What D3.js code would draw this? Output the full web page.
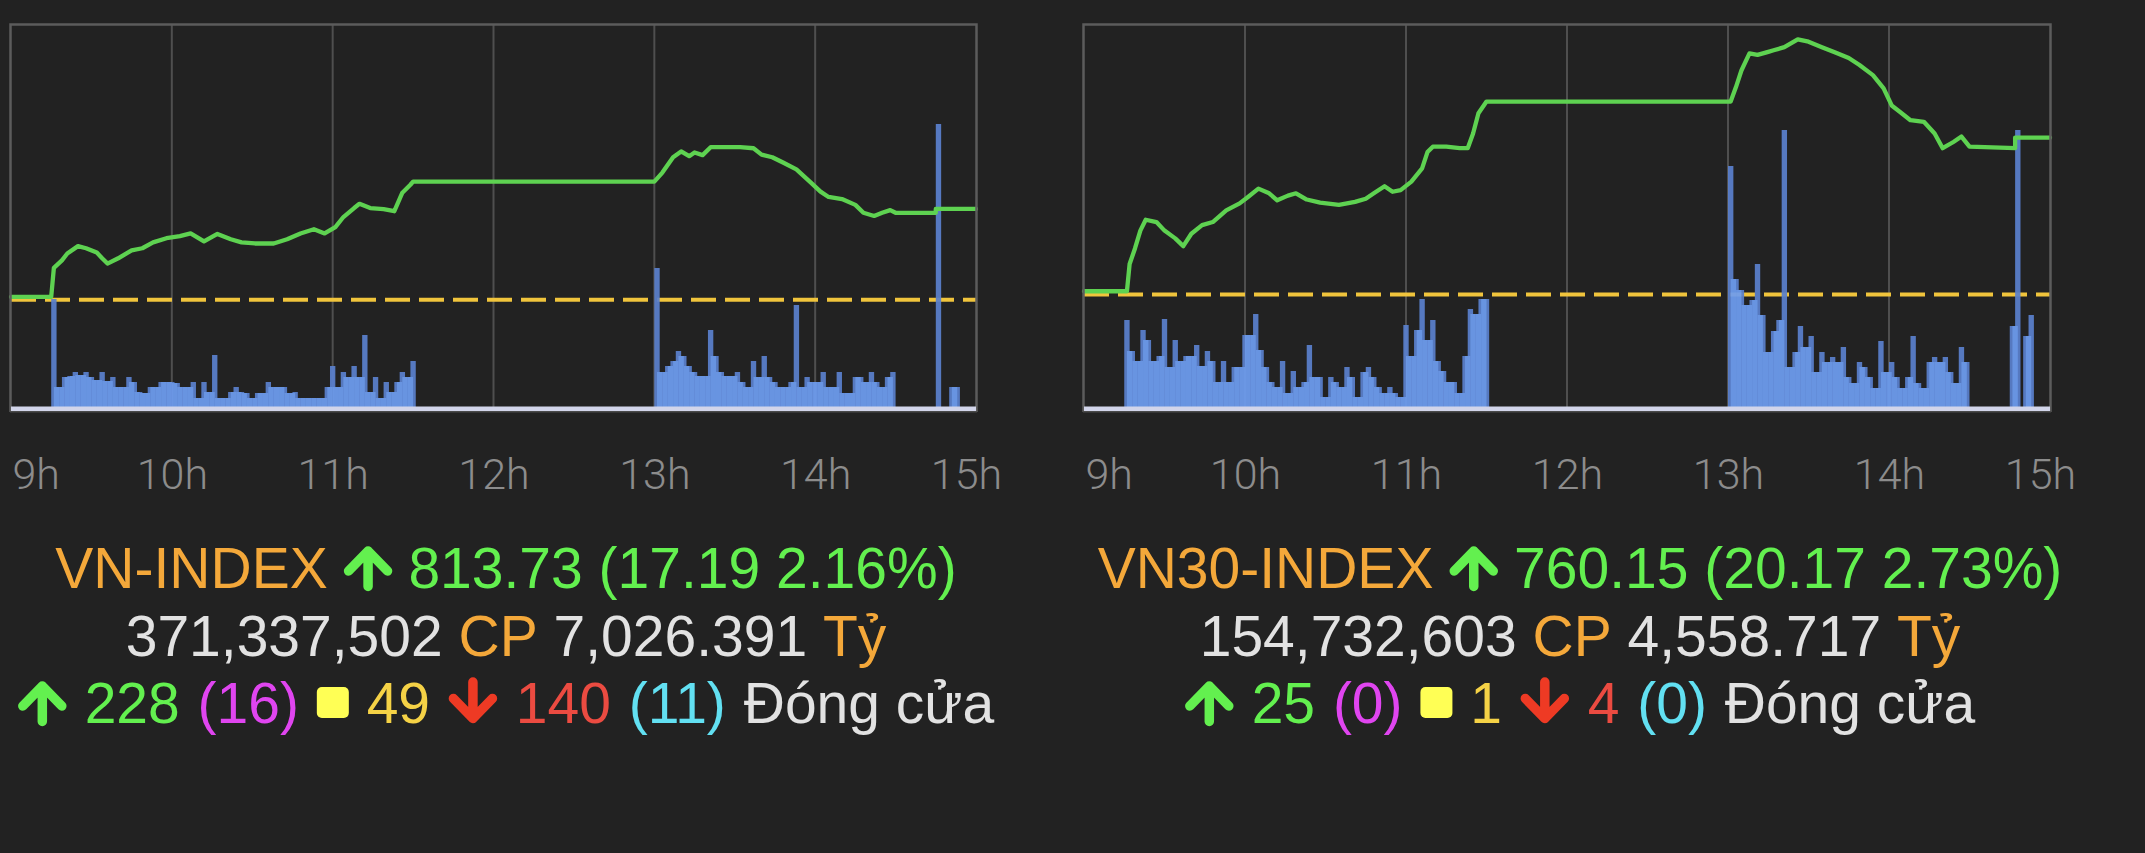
<!DOCTYPE html>
<html><head><meta charset="utf-8">
<script src="https://cdn.jsdelivr.net/npm/d3@7"></script>
<style>
html,body{margin:0;padding:0;background:#222222;}
svg{display:block;}
</style></head><body>
<svg id="chart" width="2145" height="853"></svg>
<script>
// ================= DATA =================
const hourTicks = ["9h", "10h", "11h", "12h", "13h", "14h", "15h"];
const volStepMin = 2;

// ---- VN-INDEX ----
const vnName = "VN-INDEX";
const vnClose = "813.73", vnChange = "17.19", vnPct = "2.16%";
const vnRef = 796.54;
const vnDomain = [776.1, 848.5];
const vnTimes = ["9:00","9:15","9:16","9:19","9:21","9:25","9:28","9:32","9:34","9:36","9:40","9:45","9:49","9:53","9:58",
  "10:03","10:07","10:12","10:17","10:22","10:26","10:31","10:38","10:43","10:48","10:53","10:57",
  "11:01","11:04","11:08","11:10","11:14","11:19","11:23","11:26","11:29","11:30",
  "13:00","13:03","13:07","13:10","13:13","13:15","13:18","13:21","13:27","13:32","13:37","13:40","13:44","13:48","13:53","13:58",
  "14:02","14:05","14:10","14:15","14:18","14:22","14:25","14:28","14:30","14:45","14:45","15:00"];
const vnValues = [797.1,797.1,802.6,804.0,805.3,806.7,806.3,805.5,804.4,803.4,804.4,805.9,806.3,807.4,808.2,
  808.6,809.1,807.6,809.0,808.0,807.4,807.2,807.2,808.0,809.1,809.9,809.1,
  810.3,812.2,813.9,814.7,813.9,813.7,813.3,816.8,818.3,818.9,
  818.9,820.6,823.5,824.6,823.7,824.4,823.9,825.4,825.4,825.4,825.2,824.0,823.5,822.5,821.2,818.9,
  817.0,816.0,815.6,814.5,813.0,812.4,813.0,813.5,813.0,813.0,813.73,813.73];
const vnVolAMStart = "9:15";
const vnVolAM = [108,20,30,31,35,32,35,30,27,35,26,30,20,20,30,25,15,14,20,20,25,25,25,24,20,20,25,9,25,15,52,
  9,9,15,20,15,14,9,14,14,25,20,20,20,14,15,9,9,9,9,9,20,41,20,35,30,41,30,72,15,30,9,25,15,25,35,30,46];
const vnVolPMStart = "13:00";
const vnVolPM = [139,35,41,46,56,51,41,35,31,31,77,51,35,31,31,35,25,20,46,30,51,30,25,20,20,25,102,20,30,25,25,
  35,20,20,35,14,14,30,30,25,35,25,20,30,35];
const vnVolATCTimes = ["14:45","14:50","14:52"];
const vnVolATC = [283,20,20];
const vnShares = "371,337,502", vnValue = "7,026.391";
const vnUp = "228", vnCeil = "(16)", vnFlat = "49", vnDown = "140", vnFloor = "(11)";

// ---- VN30-INDEX ----
const v30Name = "VN30-INDEX";
const v30Close = "760.15", v30Change = "20.17", v30Pct = "2.73%";
const v30Ref = 739.98;
const v30Domain = [725.38, 774.65];
const v30Times = ["9:00","9:16","9:17","9:19","9:21","9:23","9:27","9:30","9:34","9:37","9:40","9:44","9:48","9:53","9:58",
  "10:01","10:05","10:09","10:12","10:16","10:19","10:23","10:28","10:35","10:41","10:45","10:48","10:52","10:55","10:58",
  "11:02","11:06","11:08","11:10","11:15","11:20","11:23","11:25","11:27","11:30",
  "13:00","13:01","13:03","13:05","13:08","13:11","13:15","13:17","13:21","13:26","13:30","13:35","13:40","13:45","13:49","13:54","13:58",
  "14:01","14:04","14:08","14:13","14:17","14:20","14:24","14:27","14:30","14:47","14:47","15:00"];
const v30Values = [740.4,740.4,743.9,745.9,748.2,749.6,749.3,748.2,747.2,746.2,747.8,748.9,749.3,750.8,751.7,
  752.5,753.6,753.0,752.1,752.7,753.0,752.2,751.8,751.5,751.9,752.3,753.0,753.9,753.2,753.4,
  754.5,756.2,758.3,759.0,759.0,758.8,758.8,760.7,763.3,764.8,
  764.8,764.8,766.7,768.8,771.0,770.8,771.2,771.4,771.8,772.8,772.5,771.8,771.1,770.4,769.5,768.2,766.5,
  764.3,763.5,762.4,762.2,760.7,758.8,759.6,760.3,759.0,758.8,760.15,760.15];
const v30VolAMStart = "9:15";
const v30VolAM = [87,56,46,77,67,46,51,88,40,67,46,51,51,62,41,56,46,25,46,25,40,40,72,72,93,57,40,25,20,46,
  14,36,20,25,62,30,30,10,30,25,20,40,30,10,35,40,30,20,14,20,14,10,82,51,77,108,67,87,46,36,25,25,14,51,98,93,108,108];
const v30VolPMStart = "13:00";
const v30VolPM = [241,128,117,102,107,143,92,55,76,87,277,40,55,81,60,71,35,55,45,50,45,60,30,24,45,40,30,19,66,35,
  45,30,19,30,71,24,19,45,50,45,50,35,24,60,45];
const v30VolATCTimes = ["14:45","14:47","14:50","14:52"];
const v30VolATC = [81,277,71,92];
const v30Shares = "154,732,603", v30Value = "4,558.717";
const v30Up = "25", v30Ceil = "(0)", v30Flat = "1", v30Down = "4", v30Floor = "(0)";

// ================= DRAW =================
const svg = d3.select("#chart");
const parse = d3.timeParse("%H:%M");
const TOP = 25, BOT = 408, VBASE = 407;

const C = {
  grid: "#4f4f4f", frame: "#5c5c5c", dash: "#f0c43c", line: "#5ed251",
  barDark: "#5a80cd", barLight: "#6e9df0", axisBand: "#d2d5ea", tick: "#8c8c8c",
  orange: "#f4a83a", green: "#63f04f", gray: "#e2e2e2", magenta: "#e045f0",
  yellowSq: "#ffff55", yellow: "#f5d246", red: "#eb4b41", redArrow: "#ee3a24", cyan: "#62e0f2"
};

function volSeries(start, arr) {
  const t0 = parse(start);
  return arr.map((v, i) => ({ t: d3.timeMinute.offset(t0, i * volStepMin), v }));
}

function drawPanel(cfg) {
  const g = svg.append("g");
  const x = d3.scaleTime().domain([parse("9:00"), parse("15:00")]).range([cfg.x0, cfg.x1]);
  const y = d3.scaleLinear().domain(cfg.domain).range([BOT, TOP]);
  const yv = d3.scaleLinear().domain([0, 382]).range([VBASE, TOP]);
  const ticks = x.ticks(d3.timeHour.every(1));

  // grid
  g.selectAll(".grid").data(ticks.slice(1, -1)).join("line")
    .attr("x1", d => x(d)).attr("x2", d => x(d)).attr("y1", TOP).attr("y2", VBASE)
    .attr("stroke", C.grid).attr("stroke-width", 2);

  // reference dashed line
  g.append("line").attr("x1", cfg.x0).attr("x2", cfg.x1)
    .attr("y1", y(cfg.ref)).attr("y2", y(cfg.ref))
    .attr("stroke", C.dash).attr("stroke-width", 4).attr("stroke-dasharray", "25 9");

  // volume bars
  const groups = [
    volSeries(cfg.volAMStart, cfg.volAM),
    volSeries(cfg.volPMStart, cfg.volPM),
    cfg.volATCTimes.map((t, i) => ({ t: parse(t), v: cfg.volATC[i] }))
  ];
  const bars = g.append("g").attr("opacity", 0.93);
  groups.forEach(series => {
    bars.append("g").selectAll("rect").data(series).join("rect")
      .attr("x", d => x(d.t))
      .attr("width", d => x(d3.timeMinute.offset(d.t, volStepMin)) - x(d.t))
      .attr("y", d => yv(d.v)).attr("height", d => VBASE - yv(d.v))
      .attr("fill", C.barDark);
    const pairs = d3.pairs(series).filter(([a, b]) => (b.t - a.t) === volStepMin * 60000);
    bars.append("g").selectAll("rect").data(pairs).join("rect")
      .attr("x", ([a]) => x(d3.timeMinute.offset(a.t, volStepMin / 2)))
      .attr("width", ([a, b]) => x(d3.timeMinute.offset(b.t, volStepMin / 2)) - x(d3.timeMinute.offset(a.t, volStepMin / 2)))
      .attr("y", ([a, b]) => yv(Math.min(a.v, b.v)))
      .attr("height", ([a, b]) => VBASE - yv(Math.min(a.v, b.v)))
      .attr("fill", C.barLight);
  });

  // index line
  const pts = cfg.times.map((t, i) => ({ t: parse(t), v: cfg.values[i] }));
  g.append("path").datum(pts)
    .attr("d", d3.line().x(d => x(d.t)).y(d => y(d.v)))
    .attr("fill", "none").attr("stroke", C.line).attr("stroke-width", 4.3)
    .attr("stroke-linejoin", "round").attr("stroke-linecap", "round");

  // frame
  g.append("path")
    .attr("d", `M${cfg.x0 - 0.5},412 V24.5 H${cfg.x1 + 0.5} V412`)
    .attr("fill", "none").attr("stroke", C.frame).attr("stroke-width", 2.5);
  g.append("rect").attr("x", cfg.x0).attr("y", 406.5).attr("width", cfg.x1 - cfg.x0).attr("height", 4.5)
    .attr("fill", C.axisBand);
  g.append("line").attr("x1", cfg.x0 - 1).attr("x2", cfg.x1 + 1).attr("y1", 411.8).attr("y2", 411.8)
    .attr("stroke", "#4a4a4a").attr("stroke-width", 1.5);

  // x axis
  const axis = d3.axisBottom(x).ticks(d3.timeHour.every(1))
    .tickFormat((d, i) => hourTicks[i]).tickSize(0).tickPadding(0);
  const ag = g.append("g").attr("transform", "translate(0,489)").call(axis)
    .attr("font-family", "'Roboto Light', Roboto, 'Liberation Sans', sans-serif").attr("font-size", 43);
  ag.select(".domain").remove();
  const tt = ag.selectAll("text").attr("y", 0).attr("dy", 0)
    .attr("fill", C.tick).style("font-weight", 300);
  const n = tt.size();
  tt.filter((d, i) => i === 0).attr("text-anchor", "start").attr("x", 1);
  tt.filter((d, i) => i === n - 1).attr("x", -10);

  // info lines
  const cx = cfg.textCx;
  drawLine([
    { text: cfg.name, color: C.orange },
    { icon: "up", color: C.green, w: 49 },
    { text: `${cfg.close} (${cfg.change} ${cfg.pct})`, color: C.green }
  ], cx, 588, 0);
  drawLine([
    { text: cfg.shares, color: C.gray },
    { text: "CP", color: C.orange },
    { text: cfg.value, color: C.gray },
    { text: "Tỷ", color: C.orange }
  ], cx, 656, 0);
  drawLine([
    { icon: "up", color: C.green, w: 49 },
    { text: cfg.up, color: C.green },
    { text: cfg.ceil, color: C.magenta },
    { icon: "square", color: C.yellowSq, w: 32 },
    { text: cfg.flat, color: C.yellow },
    { icon: "down", color: C.redArrow, w: 50 },
    { text: cfg.down, color: C.red },
    { text: cfg.floor, color: C.cyan },
    { text: "Đóng cửa", color: C.gray }
  ], cx, 723, 2);
}

const FONT = "'Liberation Sans', Arial, Helvetica, sans-serif";
const FS = 57;
function drawLine(segs, cx, base, extraGap) {
  const tmp = svg.append("text").attr("font-family", FONT).attr("font-size", FS);
  const widths = segs.map(s => {
    if (s.icon) return s.w;
    tmp.text(s.text);
    return tmp.node().getComputedTextLength();
  });
  tmp.remove();
  const space = 0.278 * FS + extraGap;
  const total = d3.sum(widths) + space * (segs.length - 1);
  let xp = cx - total / 2;
  const g = svg.append("g");
  segs.forEach((s, i) => {
    const w = widths[i];
    if (s.icon === "up" || s.icon === "down") {
      const ax = xp + w / 2;
      let d;
      if (s.icon === "up") {
        const tip = base - 37;
        d = `M${ax},${base - 1.5} V${tip} M${ax - 19.5},${tip + 20} L${ax},${tip} L${ax + 19.5},${tip + 20}`;
      } else {
        const tip = base - 4.5;
        d = `M${ax},${base - 41} V${tip} M${ax - 19.5},${tip - 20} L${ax},${tip} L${ax + 19.5},${tip - 20}`;
      }
      g.append("path").attr("d", d).attr("fill", "none").attr("stroke", s.color)
        .attr("stroke-width", 9.5).attr("stroke-linecap", "round").attr("stroke-linejoin", "round");
    } else if (s.icon === "square") {
      g.append("rect").attr("x", xp).attr("y", base - 36).attr("width", w).attr("height", 31)
        .attr("rx", 5).attr("fill", s.color);
    } else {
      g.append("text").attr("x", xp).attr("y", base).attr("font-family", FONT).attr("font-size", FS)
        .attr("fill", s.color).text(s.text);
    }
    xp += w + space;
  });
}

drawPanel({
  x0: 11, x1: 976, domain: vnDomain, ref: vnRef, times: vnTimes, values: vnValues,
  volAMStart: vnVolAMStart, volAM: vnVolAM, volPMStart: vnVolPMStart, volPM: vnVolPM,
  volATCTimes: vnVolATCTimes, volATC: vnVolATC, textCx: 506,
  name: vnName, close: vnClose, change: vnChange, pct: vnPct, shares: vnShares, value: vnValue,
  up: vnUp, ceil: vnCeil, flat: vnFlat, down: vnDown, floor: vnFloor
});
drawPanel({
  x0: 1084, x1: 2050, domain: v30Domain, ref: v30Ref, times: v30Times, values: v30Values,
  volAMStart: v30VolAMStart, volAM: v30VolAM, volPMStart: v30VolPMStart, volPM: v30VolPM,
  volATCTimes: v30VolATCTimes, volATC: v30VolATC, textCx: 1580,
  name: v30Name, close: v30Close, change: v30Change, pct: v30Pct, shares: v30Shares, value: v30Value,
  up: v30Up, ceil: v30Ceil, flat: v30Flat, down: v30Down, floor: v30Floor
});
</script>
</body></html>
